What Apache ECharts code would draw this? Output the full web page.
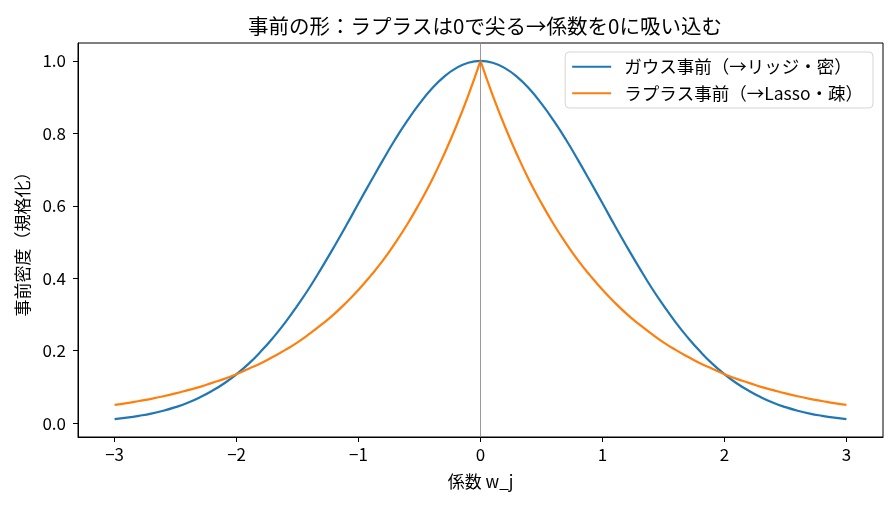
<!DOCTYPE html>
<html>
<head>
<meta charset="utf-8">
<script src="https://cdn.jsdelivr.net/npm/echarts@6/dist/echarts.min.js"></script>
<style>
  html, body { margin: 0; padding: 0; background: #fff; }
  #chart { width: 895px; height: 506px; }
</style>
</head>
<body>
<div id="chart"></div>
<script>
// 係数 w_j (-3 .. 3, 0.1 刻み)
const wValues = [
  -3.0, -2.9, -2.8, -2.7, -2.6, -2.5, -2.4, -2.3, -2.2, -2.1,
  -2.0, -1.9, -1.8, -1.7, -1.6, -1.5, -1.4, -1.3, -1.2, -1.1,
  -1.0, -0.9, -0.8, -0.7, -0.6, -0.5, -0.4, -0.3, -0.2, -0.1,
  0.0,
  0.1, 0.2, 0.3, 0.4, 0.5, 0.6, 0.7, 0.8, 0.9, 1.0,
  1.1, 1.2, 1.3, 1.4, 1.5, 1.6, 1.7, 1.8, 1.9, 2.0,
  2.1, 2.2, 2.3, 2.4, 2.5, 2.6, 2.7, 2.8, 2.9, 3.0
];

// ガウス事前（規格化）
const gaussValues = [
  0.011, 0.015, 0.020, 0.026, 0.034, 0.044, 0.056, 0.071, 0.089, 0.110,
  0.135, 0.164, 0.198, 0.236, 0.278, 0.325, 0.375, 0.430, 0.487, 0.546,
  0.607, 0.667, 0.726, 0.783, 0.835, 0.882, 0.923, 0.956, 0.980, 0.995,
  1.000,
  0.995, 0.980, 0.956, 0.923, 0.882, 0.835, 0.783, 0.726, 0.667, 0.607,
  0.546, 0.487, 0.430, 0.375, 0.325, 0.278, 0.236, 0.198, 0.164, 0.135,
  0.110, 0.089, 0.071, 0.056, 0.044, 0.034, 0.026, 0.020, 0.015, 0.011
];

// ラプラス事前（規格化）
const laplaceValues = [
  0.050, 0.055, 0.061, 0.067, 0.074, 0.082, 0.091, 0.100, 0.111, 0.122,
  0.135, 0.150, 0.165, 0.183, 0.202, 0.223, 0.247, 0.273, 0.301, 0.333,
  0.368, 0.407, 0.449, 0.497, 0.549, 0.607, 0.670, 0.741, 0.819, 0.905,
  1.000,
  0.905, 0.819, 0.741, 0.670, 0.607, 0.549, 0.497, 0.449, 0.407, 0.368,
  0.333, 0.301, 0.273, 0.247, 0.223, 0.202, 0.183, 0.165, 0.150, 0.135,
  0.122, 0.111, 0.100, 0.091, 0.082, 0.074, 0.067, 0.061, 0.055, 0.050
];

const xTicks = [-3, -2, -1, 0, 1, 2, 3];
const yTicks = [0, 0.2, 0.4, 0.6, 0.8, 1.0];

const seriesNames = ['ガウス事前（→リッジ・密）', 'ラプラス事前（→Lasso・疎）'];
const seriesColors = ['#1f77b4', '#ff7f0e'];

const FONT = '"Noto Sans CJK JP", "Noto Sans", sans-serif';

function pairs(ys, from, to) {
  const out = [];
  wValues.forEach((w, i) => {
    if (w >= from && w <= to) out.push([w, ys[i]]);
  });
  return out;
}

// ラプラスは0で尖るので、左右を別々に滑らかにつなぐ
function lineSeries(name, color, data, z) {
  return {
    name: name,
    type: 'line',
    data: data,
    showSymbol: false,
    smooth: 0.5,
    color: color,
    lineStyle: { width: 2.2, color: color },
    z: z
  };
}

const chart = echarts.init(document.getElementById('chart'));

const gaussSeries = lineSeries(seriesNames[0], seriesColors[0], pairs(gaussValues, -3, 3), 3);
gaussSeries.markLine = {
  silent: true,
  symbol: 'none',
  label: { show: false },
  lineStyle: { color: '#808080', width: 0.8, type: 'solid' },
  data: [{ xAxis: 0 }]
};

chart.setOption({
  animation: false,
  backgroundColor: '#fff',
  textStyle: { fontFamily: FONT, color: '#000' },
  title: {
    text: '事前の形：ラプラスは0で尖る→係数を0に吸い込む',
    left: 480,
    top: 11,
    textAlign: 'center',
    textStyle: { fontFamily: FONT, fontSize: 20.5, fontWeight: 'normal', color: '#000' }
  },
  grid: {
    left: 78, right: 12, top: 43, bottom: 69,
    show: true, borderColor: '#000', borderWidth: 1, backgroundColor: 'transparent'
  },
  legend: {
    orient: 'vertical',
    right: 22,
    top: 52,
    padding: [6, 10, 6, 7],
    itemGap: 9,
    itemWidth: 39,
    itemHeight: 2,
    icon: 'rect',
    borderColor: '#d5d5d5',
    borderWidth: 1,
    borderRadius: 4,
    backgroundColor: 'rgba(255,255,255,0.85)',
    textStyle: { fontFamily: FONT, fontSize: 17.5, color: '#000', padding: [0, 0, 0, 8] },
    data: seriesNames
  },
  xAxis: {
    type: 'value',
    min: -3.3,
    max: 3.3,
    name: '係数 w_j',
    nameLocation: 'middle',
    nameGap: 36,
    nameTextStyle: { fontFamily: FONT, fontSize: 17, color: '#000' },
    axisLine: { show: true, onZero: false, lineStyle: { color: '#000', width: 1 } },
    axisTick: { show: true, length: 5, lineStyle: { color: '#000' }, customValues: xTicks },
    axisLabel: {
      fontFamily: FONT, fontSize: 17, color: '#000', margin: 9,
      customValues: xTicks,
      formatter: v => String(v).replace('-', '−')
    },
    splitLine: { show: false }
  },
  yAxis: {
    type: 'value',
    min: -0.0385,
    max: 1.0495,
    name: '事前密度（規格化）',
    nameLocation: 'middle',
    nameGap: 47,
    nameTextStyle: { fontFamily: FONT, fontSize: 17, color: '#000' },
    axisLine: { show: true, onZero: false, lineStyle: { color: '#000', width: 1 } },
    axisTick: { show: true, length: 5, lineStyle: { color: '#000' }, customValues: yTicks },
    axisLabel: {
      fontFamily: FONT, fontSize: 17, color: '#000', margin: 12,
      customValues: yTicks,
      formatter: v => v.toFixed(1)
    },
    splitLine: { show: false }
  },
  series: [
    gaussSeries,
    lineSeries(seriesNames[1], seriesColors[1], pairs(laplaceValues, -3, 0), 4),
    lineSeries(seriesNames[1], seriesColors[1], pairs(laplaceValues, 0, 3), 4)
  ]
});
</script>
</body>
</html>
